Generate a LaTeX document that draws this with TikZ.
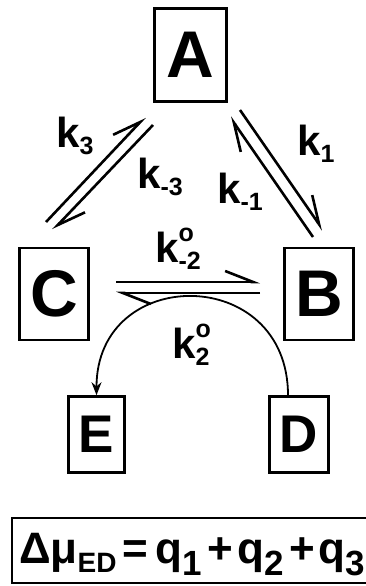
\documentclass[tikz,border=0pt]{standalone}
\usepackage{fontspec}
\setmainfont{Liberation Sans}
\usetikzlibrary{arrows.meta}
\newcommand{\kconst}[2]{k\makebox[0pt][l]{\raisebox{0.5em}{\fontsize{25}{25}\selectfont #1}}\raisebox{-0.19em}{\fontsize{25}{25}\selectfont #2}}

\begin{document}
\begin{tikzpicture}[
  x=1pt, y=-1pt,
  species/.style={
    draw,
    line width=2.6pt,
    inner sep=0pt,
    font=\bfseries\fontsize{66}{66}\selectfont
  },
  product/.style={species, font=\bfseries\fontsize{53}{53}\selectfont},
  rate/.style={anchor=base west, inner sep=0pt, font=\bfseries\fontsize{42}{42}\selectfont},
  harpoon/.style={line width=2.6pt, -{Straight Barb[left,length=28pt,width=22pt]}},
  flux/.style={line width=1.8pt, -{Stealth[length=13pt,width=10pt]}}
]
  \useasboundingbox (0,0) rectangle (365,586);

  % Species boxes
  \node[species, minimum width=72pt, minimum height=93pt] (A) at (190.5,55) {A};
  \node[species, minimum width=69pt, minimum height=92pt] (C) at (54,294) {C};
  \node[species, minimum width=69pt, minimum height=92pt] (B) at (319,294) {B};
  \node[product, minimum width=56pt, minimum height=76pt] (E) at (96.5,434.5) {E};
  \node[product, minimum width=59pt, minimum height=76pt] (D) at (299,434.5) {D};

  % Harpoon ends
  \coordinate (ca0) at (46,222);  \coordinate (ca1) at (145,117);
  \coordinate (ac0) at (153,125); \coordinate (ac1) at (53,230);
  \coordinate (ba0) at (313,237); \coordinate (ba1) at (230,117);
  \coordinate (ab0) at (240,110); \coordinate (ab1) at (323,230);
  \coordinate (cb0) at (116,282); \coordinate (cb1) at (260,282);
  \coordinate (bc0) at (260,293); \coordinate (bc1) at (116,293);

  % Reversible steps
  \draw[harpoon] (ca0) -- (ca1);
  \draw[harpoon] (ac0) -- (ac1);
  \draw[harpoon] (ba0) -- (ba1);
  \draw[harpoon] (ab0) -- (ab1);
  \draw[harpoon] (cb0) -- (cb1);
  \draw[harpoon] (bc0) -- (bc1);

  % Coupled step D to E
  \draw[flux] ([xshift=-11pt]D.north) .. controls +(0,-131) and +(0,-131) .. (E.north);

  % Rate constants
  \node[rate] (k3) at (56,147) {\kconst{}{3}};
  \node[rate] (km3) at (137,188) {\kconst{}{-3}};
  \node[rate] (km1) at (217,203) {\kconst{}{-1}};
  \node[rate] (k1) at (297,155) {\kconst{}{1}};
  \node[rate] (km2) at (155,262) {\kconst{o}{-2}};
  \node[rate] (k2) at (172,358) {\kconst{o}{2}};

  % Energy balance
  \node[draw, line width=2.6pt, anchor=north west, minimum width=370pt, minimum height=65pt] (eqbox) at (10.5,516.5) {};
  \node[anchor=base west, inner sep=0pt, font=\bfseries\fontsize{44}{44}\selectfont] (eq) at (19,563)
    {Δμ\raisebox{-9pt}{\fontsize{28}{28}\selectfont ED}\hspace{6pt}=\hspace{7pt}q\raisebox{-12pt}{\fontsize{35}{35}\selectfont 1}\hspace{6pt}+\hspace{4pt}q\raisebox{-12pt}{\fontsize{35}{35}\selectfont 2}\hspace{6pt}+\hspace{3pt}q\raisebox{-12pt}{\fontsize{35}{35}\selectfont 3}};
\end{tikzpicture}
\end{document}
